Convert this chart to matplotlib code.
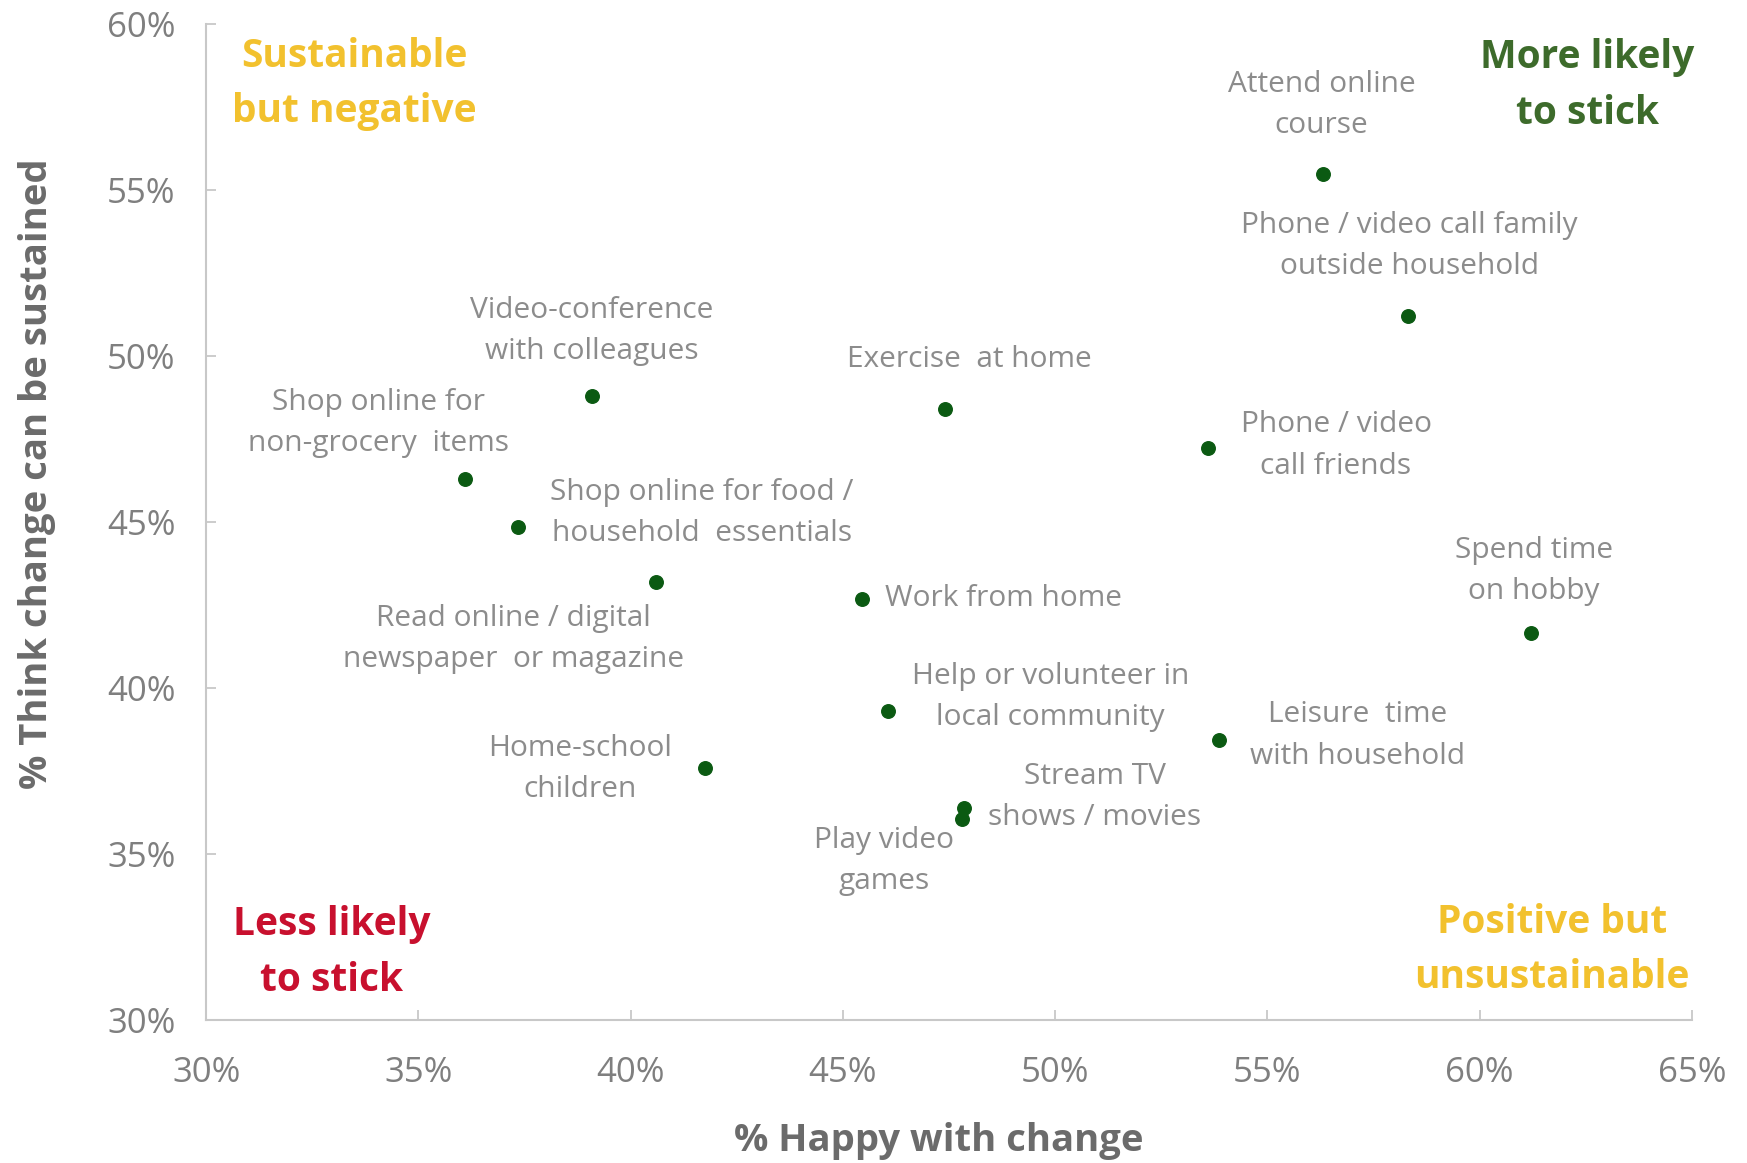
import matplotlib.pyplot as plt
from matplotlib.ticker import FuncFormatter

plt.rcParams['font.family'] = ['Open Sans', 'DejaVu Sans']

# datos (% contento con el cambio, % cree que se mantendra)
actividades = ['Attend online\ncourse',
               'Phone / video call family\noutside household',
               'Video-conference\nwith colleagues',
               'Exercise  at home',
               'Phone / video\ncall friends',
               'Shop online for\nnon-grocery  items',
               'Shop online for food /\nhousehold  essentials',
               'Read online / digital\nnewspaper  or magazine',
               'Work from home',
               'Spend time\non hobby',
               'Help or volunteer in\nlocal community',
               'Leisure  time\nwith household',
               'Home-school\nchildren',
               'Stream TV\nshows / movies',
               'Play video\ngames']
feliz = [56.3, 58.3, 39.1, 47.4, 53.6, 36.1, 37.35, 40.6, 45.45, 61.2, 46.05, 53.85, 41.75, 47.85, 47.8]
sostenible = [55.5, 51.2, 48.8, 48.4, 47.25, 46.3, 44.85, 43.2, 42.7, 41.65, 39.3, 38.45, 37.6, 36.4, 36.05]

# desplazamiento de cada etiqueta (pixeles)
offsets = [(-1, 69), (2, 70), (-1, 65), (25, 50), (128, 2), (-87, 56), (184, 14),
           (-143, -57), (23, 0), (3, 62), (163, 14), (139, 4), (-125, -1), (131, 11), (-78, -42)]

fig = plt.figure(figsize=(17.47, 11.63), dpi=100)
ax = fig.add_axes([0.118, 0.123, 0.8505, 0.856])

ax.scatter(feliz, sostenible, s=95, color='#0b5a12', zorder=3)

for nombre, x, y, off in zip(actividades, feliz, sostenible, offsets):
    ha = 'left' if nombre == 'Work from home' else 'center'
    ax.annotate(nombre, (x, y), xytext=off, textcoords='offset pixels',
                ha=ha, va='center', fontsize=21.5, color='#8c8c8c',
                linespacing=1.55)

# etiquetas de cuadrantes
cuadrantes = [('Sustainable\nbut negative', 0.0997, 0.94, '#f2c12e'),
              ('More likely\nto stick', 0.9295, 0.9385, '#3d6b2b'),
              ('Less likely\nto stick', 0.0847, 0.068, '#c8102e'),
              ('Positive but\nunsustainable', 0.906, 0.0705, '#f2c12e')]
for txt, qx, qy, col in cuadrantes:
    ax.text(qx, qy, txt, transform=ax.transAxes, ha='center', va='center',
            fontsize=28, fontweight='bold', color=col, linespacing=1.55)

ax.set_xlim(30, 65)
ax.set_ylim(30, 60)
ax.set_xticks(range(30, 66, 5))
ax.set_yticks(range(30, 61, 5))
pct = FuncFormatter(lambda v, p: f'{v:.0f}%')
ax.xaxis.set_major_formatter(pct)
ax.yaxis.set_major_formatter(pct)

for s in ['top', 'right']:
    ax.spines[s].set_visible(False)
for s in ['left', 'bottom']:
    ax.spines[s].set_color('#c8c8c8')
    ax.spines[s].set_linewidth(1.5)

ax.tick_params(axis='both', direction='in', length=7, width=1.3, color='#c8c8c8',
               labelsize=25, labelcolor='#7f7f7f')
ax.tick_params(axis='x', pad=26)
ax.tick_params(axis='y', pad=22)

ax.set_xlabel('% Happy with change', fontsize=27.5, fontweight='bold', color='#6b6b6b')
ax.set_ylabel('% Think change can be sustained', fontsize=27.5, fontweight='bold', color='#6b6b6b')
ax.xaxis.set_label_coords(0.493, -0.103)
ax.yaxis.set_label_coords(-0.101, 0.549)

fig.savefig('out.png', dpi=100)
